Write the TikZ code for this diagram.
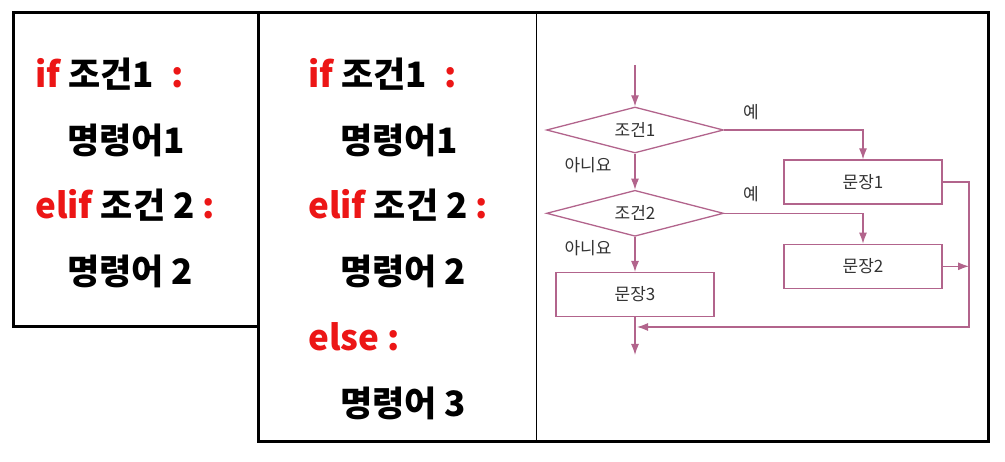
\documentclass[tikz,border=0pt]{standalone}
\usepackage{fontspec}
\newfontfamily\kofont{Noto Sans CJK KR}
\usetikzlibrary{shapes, arrows.meta, positioning}

\definecolor{keyred}{RGB}{236,22,22}
\definecolor{flowpink}{RGB}{178,100,140}
\definecolor{flowtext}{RGB}{50,50,50}
\newcommand{\kwd}[1]{\textcolor{keyred}{#1}}

\begin{document}
\begin{tikzpicture}[
        x = 1pt, y = -1pt,
        frame/.style = {draw, line width=3pt},
        code/.style = {anchor=west, inner sep=0pt, font=\kofont\bfseries\fontsize{35}{40}\selectfont},
        cond/.style = {diamond, draw=flowpink, line width=1.3pt, aspect=3.85, inner sep=0pt,
                       minimum width=177pt, minimum height=46pt, text=flowtext,
                       font=\kofont\fontsize{17}{19}\selectfont},
        stmt/.style = {rectangle, draw=flowpink, line width=1.3pt, minimum width=158pt,
                       minimum height=44pt, text=flowtext, font=\kofont\fontsize{17}{19}\selectfont},
        lbl/.style = {text=flowtext, font=\kofont\fontsize{17}{19}\selectfont},
        line/.style = {draw=flowpink, line width=1.2pt, -{Latex[length=11pt, width=8pt]}}
    ]
    \useasboundingbox (0,0) rectangle (1005,462);

    % Frames
    \draw[frame] (13,13) rectangle (258,327);
    \draw[frame] (258,13) rectangle (988,442);
    \draw[line width=1pt] (536,13) -- (536,442);

    % Code, left
    \node[code] (lif) at (35,74) {\kwd{if} 조건1\hspace{0.5em}\kwd{:}};
    \node[code] (lcmd1) at (67,140) {명령어1};
    \node[code] (lelif) at (35,205) {\kwd{elif} 조건 2 \kwd{:}};
    \node[code] (lcmd2) at (67,271) {명령어 2};

    % Code, middle
    \node[code] (mif) at (308,74) {\kwd{if} 조건1\hspace{0.5em}\kwd{:}};
    \node[code] (mcmd1) at (340,140) {명령어1};
    \node[code] (melif) at (308,205) {\kwd{elif} 조건 2 \kwd{:}};
    \node[code] (mcmd2) at (340,271) {명령어 2};
    \node[code] (melse) at (308,337) {\kwd{else :}};
    \node[code] (mcmd3) at (340,403) {명령어 3};

    % Flowchart nodes
    \node[cond] (c1) at (635,130) {조건1};
    \node[cond] (c2) [below=36pt of c1] {조건2};
    \node[stmt] (s3) [below=35pt of c2] {문장3};
    \node[stmt] (s1) at (863,182) {문장1};
    \node[stmt] (s2) [below=39pt of s1] {문장2};

    \node[lbl] (yes1) at (751,112) {예};
    \node[lbl] (no1) at (588,165) {아니요};
    \node[lbl] (yes2) at (751,194) {예};
    \node[lbl] (no2) at (588,248) {아니요};

    \coordinate (start) at (635,65);
    \coordinate (stop) at (635,355);
    \coordinate (rbus) at (969,327);
    \coordinate (merge) at (637,327);

    % Lines
    \path [line] (start) -- (c1);
    \path [line] (c1) -- (c2);
    \path [line] (c2) -- (s3);
    \path [line] (s3) -- (stop);
    \path [line] (c1.east) -| (s1.north);
    \path [line] (c2.east) -| (s2.north);
    \path [line] (s1.east) -| (rbus) -- (merge);
    \path [line] (s2.east) -- (s2.east -| rbus);

\end{tikzpicture}
\end{document}
